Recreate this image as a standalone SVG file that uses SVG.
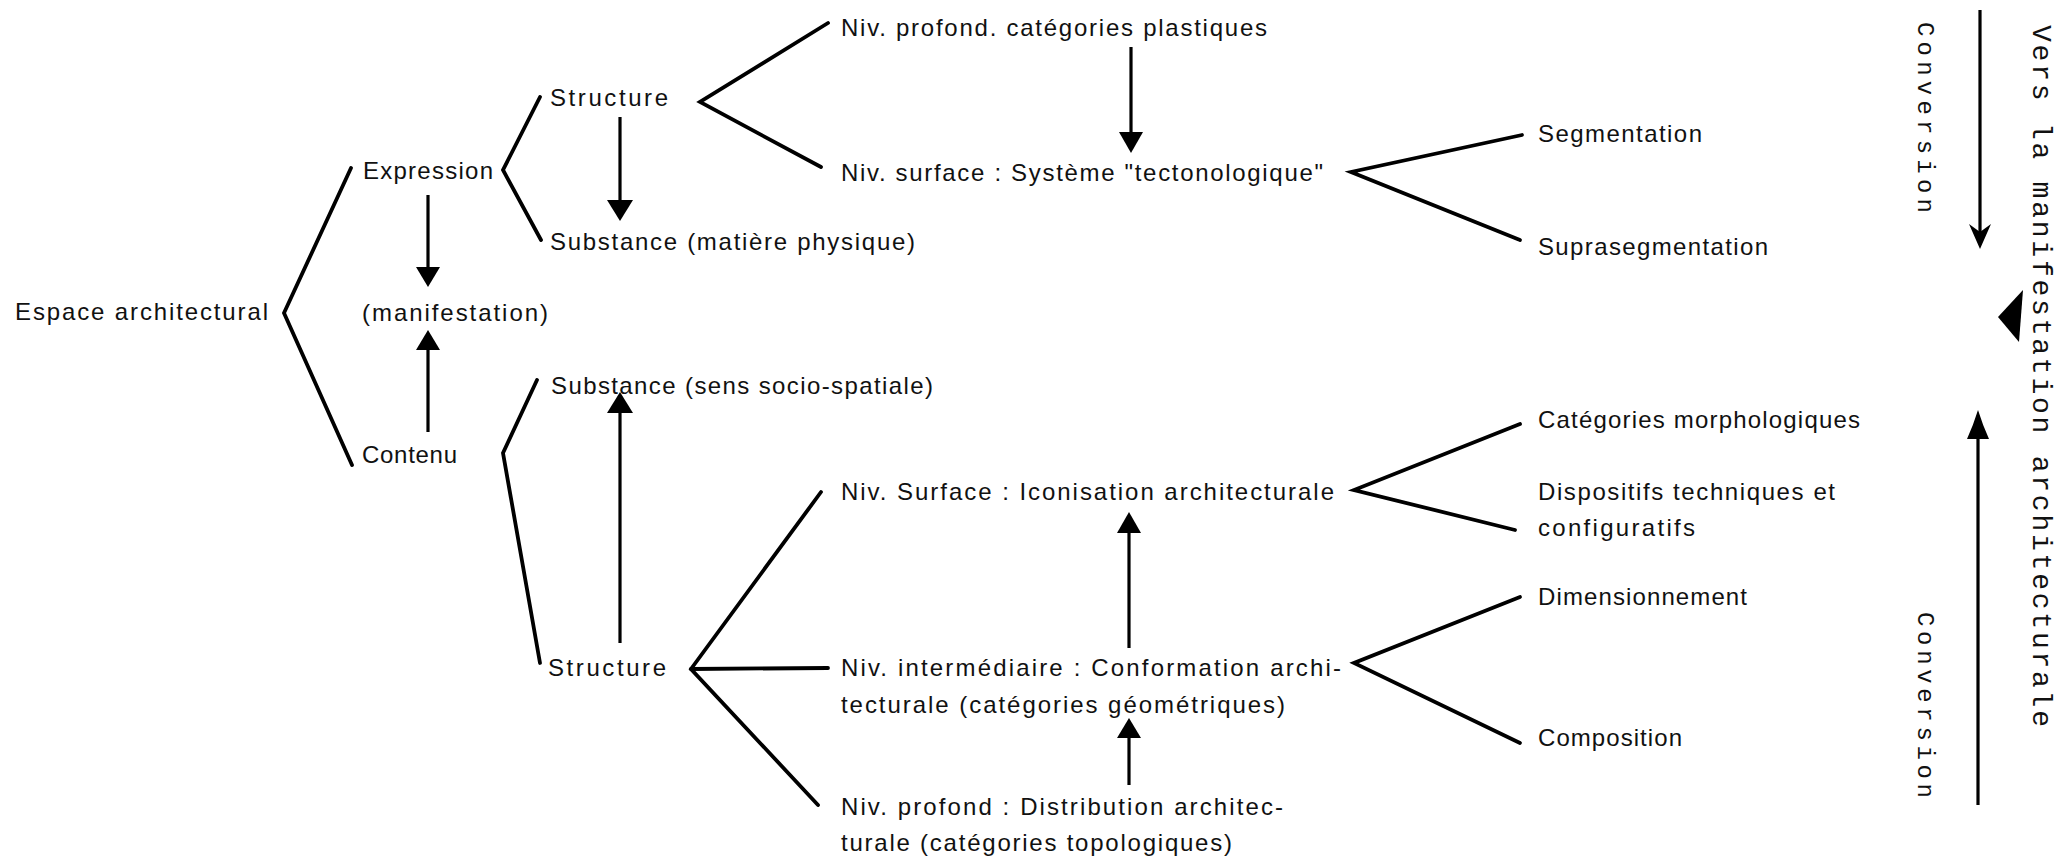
<svg xmlns="http://www.w3.org/2000/svg" width="2065" height="859" viewBox="0 0 2065 859">
<style>
.t{font-family:"Liberation Sans",Arial,sans-serif;font-size:24px;fill:#111}
.v{font-family:"Liberation Mono","Courier New",monospace;fill:#111}
.b{fill:none;stroke:#000;stroke-width:3.8;stroke-linejoin:miter;stroke-linecap:round}
.s{fill:none;stroke:#000;stroke-width:3.2;stroke-linecap:butt}
.h{fill:#000;stroke:none}
</style>
<rect width="2065" height="859" fill="#fff"/>
<g id="connectors">
  <polyline class="b" points="351,168 284,313 352,465"/>
  <polyline class="b" points="540,97 503,170 541,240"/>
  <polyline class="b" points="537,380 503,453 540,663"/>
  <polyline class="b" points="828,23 700,102 821,167"/>
  <polyline class="b" points="821,492 691,669 818,805"/>
  <line class="b" x1="691" y1="669" x2="828" y2="668"/>
  <polyline class="b" points="1522,135 1351,172 1520,240"/>
  <polyline class="b" points="1520,424 1354,490 1515,530"/>
  <polyline class="b" points="1520,597 1354,663 1520,743"/>
  <line class="s" x1="620" y1="117" x2="620" y2="205"/>
  <polygon class="h" points="607,200 633,200 620,221"/>
  <line class="s" x1="428" y1="195" x2="428" y2="272"/>
  <polygon class="h" points="416,267 440,267 428,287"/>
  <line class="s" x1="428" y1="432" x2="428" y2="345"/>
  <polygon class="h" points="416,350 440,350 428,330"/>
  <line class="s" x1="620" y1="643" x2="620" y2="408"/>
  <polygon class="h" points="607,413 633,413 620,392"/>
  <line class="s" x1="1131" y1="47" x2="1131" y2="137"/>
  <polygon class="h" points="1119,132 1143,132 1131,153"/>
  <line class="s" x1="1129" y1="648" x2="1129" y2="528"/>
  <polygon class="h" points="1117,533 1141,533 1129,512"/>
  <line class="s" x1="1129" y1="785" x2="1129" y2="734"/>
  <polygon class="h" points="1117,738 1141,738 1129,718"/>
  <line class="s" x1="1980" y1="10" x2="1980" y2="235"/>
  <path class="h" d="M1969,224 L1980,232 L1991,224 L1980,249 Z"/>
  <line class="s" x1="1978" y1="805" x2="1978" y2="425"/>
  <path class="h" d="M1978,410 Q1973,426 1967,439 L1989,439 Q1983,426 1978,410 Z"/>
  <polygon class="h" points="1998,317 2023,290 2019,342"/>
</g>
<g id="n-espace"><text class="t" x="15" y="320" textLength="253">Espace architectural</text></g>
<g id="n-expression"><text class="t" x="363" y="179" textLength="130">Expression</text></g>
<g id="n-manifestation"><text class="t" x="362" y="321" textLength="186">(manifestation)</text></g>
<g id="n-contenu"><text class="t" x="362" y="463" textLength="95">Contenu</text></g>
<g id="n-structure-exp"><text class="t" x="550" y="106" textLength="118">Structure</text></g>
<g id="n-substance-exp"><text class="t" x="550" y="250" textLength="365">Substance (matière physique)</text></g>
<g id="n-substance-cont"><text class="t" x="551" y="394" textLength="382">Substance (sens socio-spatiale)</text></g>
<g id="n-structure-cont"><text class="t" x="548" y="676" textLength="118">Structure</text></g>
<g id="n-niv-profond-plast"><text class="t" x="841" y="36" textLength="426">Niv. profond. catégories plastiques</text></g>
<g id="n-niv-surface-tecto"><text class="t" x="841" y="181" textLength="482">Niv. surface : Système "tectonologique"</text></g>
<g id="n-segmentation"><text class="t" x="1538" y="142" textLength="164">Segmentation</text></g>
<g id="n-suprasegmentation"><text class="t" x="1538" y="255" textLength="230">Suprasegmentation</text></g>
<g id="n-categories-morph"><text class="t" x="1538" y="428" textLength="322">Catégories morphologiques</text></g>
<g id="n-niv-surface-icon"><text class="t" x="841" y="500" textLength="493">Niv. Surface : Iconisation architecturale</text></g>
<g id="n-dispositifs"><text class="t" x="1538" y="500" textLength="297">Dispositifs techniques et</text><text class="t" x="1538" y="536" textLength="157">configuratifs</text></g>
<g id="n-dimensionnement"><text class="t" x="1538" y="605" textLength="209">Dimensionnement</text></g>
<g id="n-niv-intermediaire"><text class="t" x="841" y="676" textLength="500">Niv. intermédiaire : Conformation archi-</text><text class="t" x="841" y="713" textLength="444">tecturale (catégories géométriques)</text></g>
<g id="n-composition"><text class="t" x="1538" y="746" textLength="144">Composition</text></g>
<g id="n-niv-profond-distrib"><text class="t" x="841" y="815" textLength="442">Niv. profond : Distribution architec-</text><text class="t" x="841" y="851" textLength="391">turale (catégories topologiques)</text></g>
<g id="n-conversion-top"><text class="v" font-size="24" transform="translate(1918,22) rotate(90)" textLength="191">Conversion</text></g>
<g id="n-conversion-bottom"><text class="v" font-size="24" transform="translate(1918,612) rotate(90)" textLength="186">Conversion</text></g>
<g id="n-vers"><text class="v" font-size="28" transform="translate(2033,25) rotate(90)" textLength="702">Vers la manifestation architecturale</text></g>
</svg>
